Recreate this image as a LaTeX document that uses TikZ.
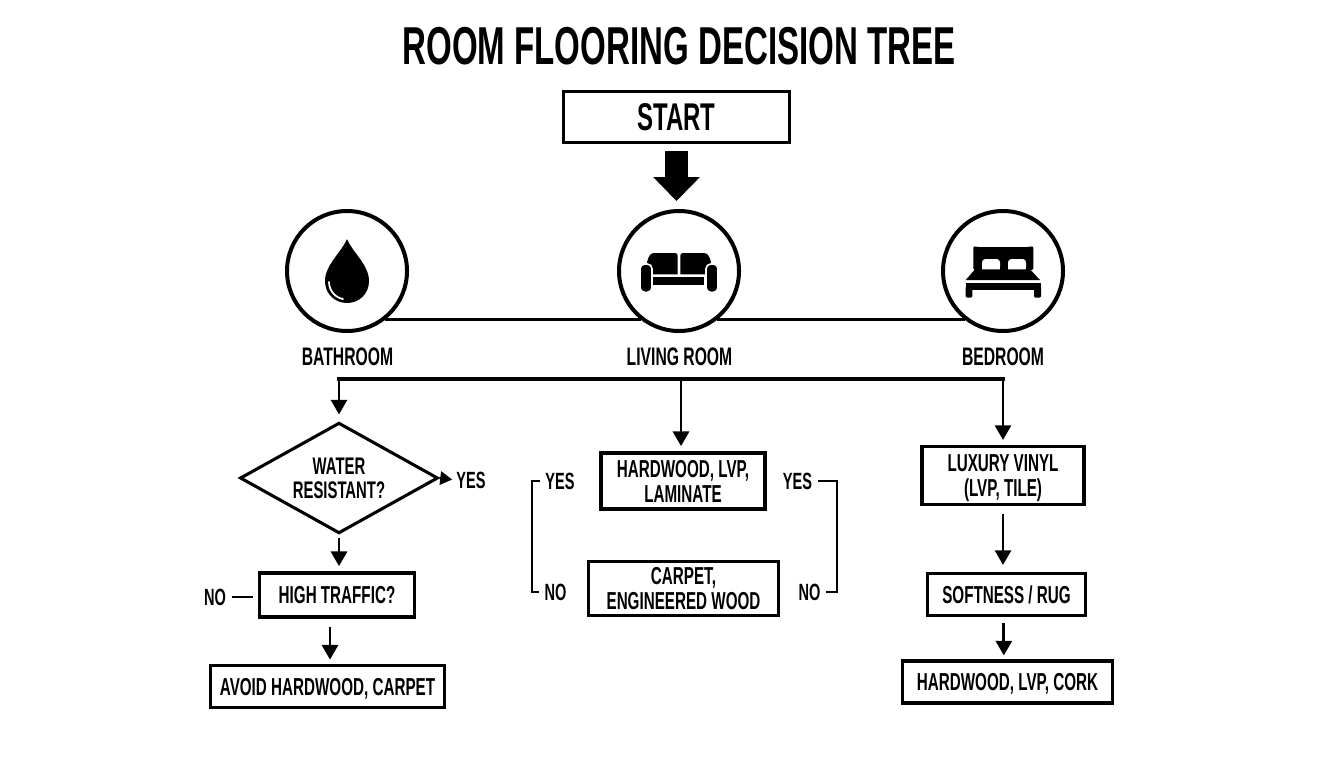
\documentclass[tikz,border=0pt]{standalone}
\usepackage{fontspec}
\setmainfont{Liberation Sans}[FakeStretch=0.62]
\usetikzlibrary{positioning, arrows.meta, calc, shapes.geometric}

\begin{document}
\begin{tikzpicture}[x=0.75pt, y=-0.75pt,
    flowbox/.style={draw, line width=2.3pt, inner sep=0pt, align=center, text depth=0pt, font=\fontsize{18.4}{18.7}\selectfont\bfseries},
    roomcircle/.style={draw, circle, line width=3pt, minimum size=90pt, inner sep=0pt},
    roomlabel/.style={inner sep=0pt, font=\fontsize{19}{20}\selectfont\bfseries},
    answer/.style={inner sep=0pt, text height=13pt, text depth=0pt, font=\fontsize{17.6}{20}\selectfont\bfseries},
    flow/.style={line width=2.2pt, -{Triangle[width=12pt,length=11pt]}},
    plainline/.style={line width=1.8pt}]
    \useasboundingbox (0,0) rectangle (1344,768);

    \node[inner sep=0pt, font=\fontsize{40}{44}\selectfont\bfseries] (title) at (679,46) {ROOM FLOORING DECISION TREE};
    \node[flowbox, minimum width=169pt, minimum height=38pt, font=\fontsize{29}{30}\selectfont\bfseries] (start) at (676.5,117) {START};

    % Rooms
    \node[roomcircle] (bath) at (347,271) {};
    \node[roomcircle] (living) at (679,271) {};
    \node[roomcircle] (bed) at (1003,271) {};
    \node[roomlabel] (bathlabel) at (347.5,357) {BATHROOM};
    \node[roomlabel] (livinglabel) at (679.5,357) {LIVING ROOM};
    \node[roomlabel] (bedlabel) at (1003,357) {BEDROOM};

    % Start arrow
    \draw[line width=17pt, -{Triangle[width=34pt,length=18pt]}, shorten <=5pt, shorten >=6pt] (start.south) -- (start.south |- living.north);

    \draw[line width=2.4pt] (bath.-52) -- (living.232);
    \draw[line width=2.4pt] (living.-52) -- (bed.232);

    % Drop
    \begin{scope}[shift={(bath.center)}]
        \fill (0,-32) .. controls (-6,-18) and (-22,-6) .. (-22,10) .. controls (-22,23) and (-12,32) .. (0,32)
            .. controls (12,32) and (22,23) .. (22,10) .. controls (22,-6) and (6,-18) .. (0,-32);
        \draw[white, line width=1.3pt, line cap=round] (-18,11) .. controls (-18,20) and (-11,27) .. (-4,28);
    \end{scope}

    % Sofa
    \begin{scope}[shift={(living.center)}]
        \fill (-33,3.3) .. controls (-33,-4) and (-32,-18) .. (-25,-18) -- (-4,-18) .. controls (-2,-18) and (-1.3,-17) .. (-1.3,-15) -- (-1.3,3.3) -- cycle;
        \fill (33,3.3) .. controls (33,-4) and (32,-18) .. (25,-18) -- (4,-18) .. controls (2,-18) and (1.3,-17) .. (1.3,-15) -- (1.3,3.3) -- cycle;
        \fill (-25.7,6.3) rectangle (25.3,14);
        \filldraw[draw=white, line width=1.2pt, rounded corners=3.5pt] (-39,-7) rectangle (-27,21.3);
        \filldraw[draw=white, line width=1.2pt, rounded corners=3.5pt] (27,-7) rectangle (39,21.3);
    \end{scope}

    % Bed
    \begin{scope}[shift={(bed.center)}]
        \fill[rounded corners=1.5pt] (-29.7,-25) -- (-26,-24) -- (26,-24) -- (30.3,-25) -- (30.3,-1) -- (-29.7,-1) -- cycle;
        \fill[white, rounded corners=2.5pt] (-21,-1) -- (-21,-12) -- (-3,-12) -- (-3,-1) -- cycle;
        \fill[white, rounded corners=2.5pt] (5,-1) -- (5,-12) -- (23,-12) -- (23,-1) -- cycle;
        \fill[white] (-21,-4) rectangle (-3,-1);
        \fill[white] (5,-4) rectangle (23,-1);
        \fill (-28,-1.7) -- (27,-1.7) -- (37,9) -- (-37.3,9) -- cycle;
        \fill (-37.3,12.3) rectangle (38,19);
        \fill[rounded corners=1pt] (-37.3,15) rectangle (-30.7,26.7);
        \fill[rounded corners=1pt] (31,15) rectangle (38,26.7);
    \end{scope}

    % Bus
    \coordinate (busleft) at (339,379);
    \coordinate (busmid) at (681,379);
    \coordinate (busright) at (1003,379);
    \draw[line width=2.3pt, line cap=rect] (busleft) -- (busright);

    % Bathroom branch
    \node[draw, diamond, line width=2.3pt, inner sep=0pt, aspect=1.78, minimum width=148.5pt, minimum height=83pt, align=center, font=\fontsize{18}{18}\selectfont\bfseries] (water) at (339,478) {WATER\\RESISTANT?};
    \node[flowbox, minimum width=116pt, minimum height=33pt] (traffic) at (337,595) {HIGH TRAFFIC?};
    \node[flowbox, minimum width=176pt, minimum height=32pt] (avoid) at (327.5,686.5) {AVOID HARDWOOD, CARPET};
    \node[answer] (wateryes) at (471,480) {YES};
    \node[answer] (trafficno) at (215,597) {NO};

    \draw[flow, shorten >=5pt] (busleft) -- (water.north);
    \draw[flow, shorten <=2pt, shorten >=4pt] (water.south) -- (water.south |- traffic.north);
    \draw[flow, shorten <=6pt, shorten >=3pt] ([xshift=-5.25pt]traffic.south) -- ([xshift=-5.25pt]traffic.south |- avoid.north);
    \draw[line width=1.6pt, -{Triangle[width=10pt,length=9pt]}, shorten >=3pt] (water.east) -- (wateryes.west);
    \draw[plainline, shorten <=4pt, shorten >=4pt] (trafficno.east) -- (trafficno.east -| traffic.west);

    % Living room branch
    \node[flowbox, minimum width=123pt, minimum height=42pt] (hardlam) at (683,481) {HARDWOOD, LVP,\\LAMINATE};
    \node[flowbox, minimum width=142pt, minimum height=41pt] (carpet) at (683.5,588.5) {CARPET,\\ENGINEERED WOOD};
    \node[answer] (yesleft) at (560,481) {YES};
    \node[answer] (noleft) at (555.5,592) {NO};
    \node[answer] (yesright) at (797.5,481) {YES};
    \node[answer] (noright) at (809.5,592) {NO};

    \draw[flow, shorten >=4pt] (busmid) -- (busmid |- hardlam.north);
    \draw[plainline, shorten <=4pt] (yesleft.west) -- ++(-13,0) |- ([xshift=-4pt]noleft.west);
    \draw[plainline, shorten <=4pt] (yesright.east) -- (837,481) |- ([xshift=4pt]noright.east);

    % Bedroom branch
    \node[flowbox, minimum width=121.5pt, minimum height=43pt] (luxury) at (1003,475.5) {LUXURY VINYL\\(LVP, TILE)};
    \node[flowbox, minimum width=118pt, minimum height=32pt] (soft) at (1006.5,594.5) {SOFTNESS / RUG};
    \node[flowbox, minimum width=158pt, minimum height=31.5pt] (cork) at (1007.5,682) {HARDWOOD, LVP, CORK};

    \draw[flow, shorten >=4pt] (busright) -- (busright |- luxury.north);
    \draw[flow, shorten <=6pt, shorten >=5pt] (luxury.south) -- (luxury.south |- soft.north);
    \draw[flow, shorten <=4pt, shorten >=3pt] ([xshift=-2pt]soft.south) -- ([xshift=-2pt]soft.south |- cork.north);
\end{tikzpicture}
\end{document}
